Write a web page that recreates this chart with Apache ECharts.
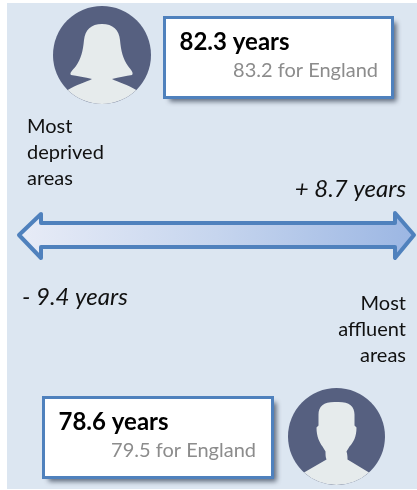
<!DOCTYPE html>
<html><head><meta charset="utf-8">
<style>html,body{margin:0;padding:0;background:#fff}#c{width:417px;height:490px}</style>
<script src="https://cdn.jsdelivr.net/npm/echarts@6/dist/echarts.min.js"></script>
</head><body><div id="c"></div>
<script>
var deprivedValue = '82.3 years';
var deprivedEngland = '83.2 for England';
var affluentValue = '78.6 years';
var affluentEngland = '79.5 for England';
var gapAffluent = '+ 8.7 years';
var gapDeprived = '- 9.4 years';
var deprivedLabel = ['Most', 'deprived', 'areas'];
var affluentLabel = ['Most', 'affluent', 'areas'];

var FONT = 'Lato, "Open Sans", sans-serif';
var chart = echarts.init(document.getElementById('c'), null, {renderer: 'canvas'});

var womanPath = 'M0,-31 C-11,-31 -17,-25 -18,-15 C-19,-4 -21,4 -26,11 C-29,15 -33,18 -31,20 C-25,21 -17,22 -10,24 ' +
  'C-16,27 -26,30 -34.3,35 A49,49 0 0 0 34.3,35 C26,30 16,27 10,24 C17,22 24,21 30,20 C32,18 29,15 26,11 ' +
  'C21,4 19,-4 18,-15 C17,-25 11,-31 0,-31 Z';
var manPath = 'M-2,-34.5 C-13,-34.5 -18,-30 -18,-22 L-18,-11 L-20,-9 C-20,0 -17,6 -14,10 L-11,15 C-11,18 -11,21 -10,23 ' +
  'L-32.5,36 A48.5,48.5 0 0 0 32.5,36 L11,23 C11,21 11,18 10,15 L13,10 C17,6 20,0 20,-9 L18,-11 L18,-22 C18,-30 13,-34.5 2,-34.5 Z';
echarts.graphic.registerShape('woman', echarts.graphic.extendPath(womanPath, {}));
echarts.graphic.registerShape('man', echarts.graphic.extendPath(manPath, {}));

function box(x, y, w, h, bold, sub, subRight) {
  return [
    {type: 'rect', shape: {x: x, y: y, width: w, height: h},
     style: {fill: '#fff', shadowBlur: 5, shadowOffsetX: 4, shadowOffsetY: 4, shadowColor: 'rgba(40,50,70,0.7)'}},
    {type: 'rect', shape: {x: x, y: y, width: w, height: h},
     style: {fill: '#fff', stroke: '#4f81bd', lineWidth: 3}},
    {type: 'text', x: x + 15, y: y + 25, style: {text: bold, font: 'bold 24px ' + FONT, fill: '#000', textVerticalAlign: 'middle'}},
    {type: 'text', x: subRight, y: y + 53, style: {text: sub, font: '20px ' + FONT, fill: '#8c8c8c', textAlign: 'right', textVerticalAlign: 'middle'}}
  ];
}
function avatar(cx, cy, r, shapeName) {
  return [
    {type: 'circle', shape: {cx: cx, cy: cy, r: r}, style: {fill: '#566080'}},
    {type: shapeName, x: cx, y: cy, style: {fill: '#e6ebec'}}
  ];
}
function lines(arr, x, y0, dy, align) {
  return arr.map(function (t, i) {
    return {type: 'text', x: x, y: y0 + i * dy,
      style: {text: t, font: '20px ' + FONT, fill: '#111', textAlign: align, textVerticalAlign: 'middle'}};
  });
}
var gfx = [
  {type: 'rect', shape: {x: 7, y: 3, width: 410, height: 486}, style: {fill: '#dce6f1'}}
].concat(avatar(102, 55, 49, 'woman'), avatar(336.5, 436.5, 48.5, 'man'), [
  {type: 'polygon', shape: {points: [[19,235],[41,214],[41,223],[395,223],[395,213],[414,235],[395,258],[395,247],[41,247],[41,258]]},
   style: {stroke: '#4f81bd', lineWidth: 4, lineJoin: 'round',
     fill: new echarts.graphic.LinearGradient(0, 0, 1, 0, [{offset: 0, color: '#e8ecf7'}, {offset: 0.5, color: '#c6d5ee'}, {offset: 1, color: '#9bb6e3'}])}},
  {type: 'text', x: 406, y: 189, style: {text: gapAffluent, font: 'italic 24px ' + FONT, fill: '#111', textAlign: 'right', textVerticalAlign: 'middle'}},
  {type: 'text', x: 22, y: 297, style: {text: gapDeprived, font: 'italic 24px ' + FONT, fill: '#111', textVerticalAlign: 'middle'}}
], box(164.5, 17.5, 228, 80, deprivedValue, deprivedEngland, 378),
   box(43.5, 397.5, 229, 80, affluentValue, affluentEngland, 256),
   lines(deprivedLabel, 27, 127, 26, 'left'),
   lines(affluentLabel, 406, 304, 26, 'right'));
chart.setOption({animation: false, graphic: {elements: gfx}});
</script></body></html>
